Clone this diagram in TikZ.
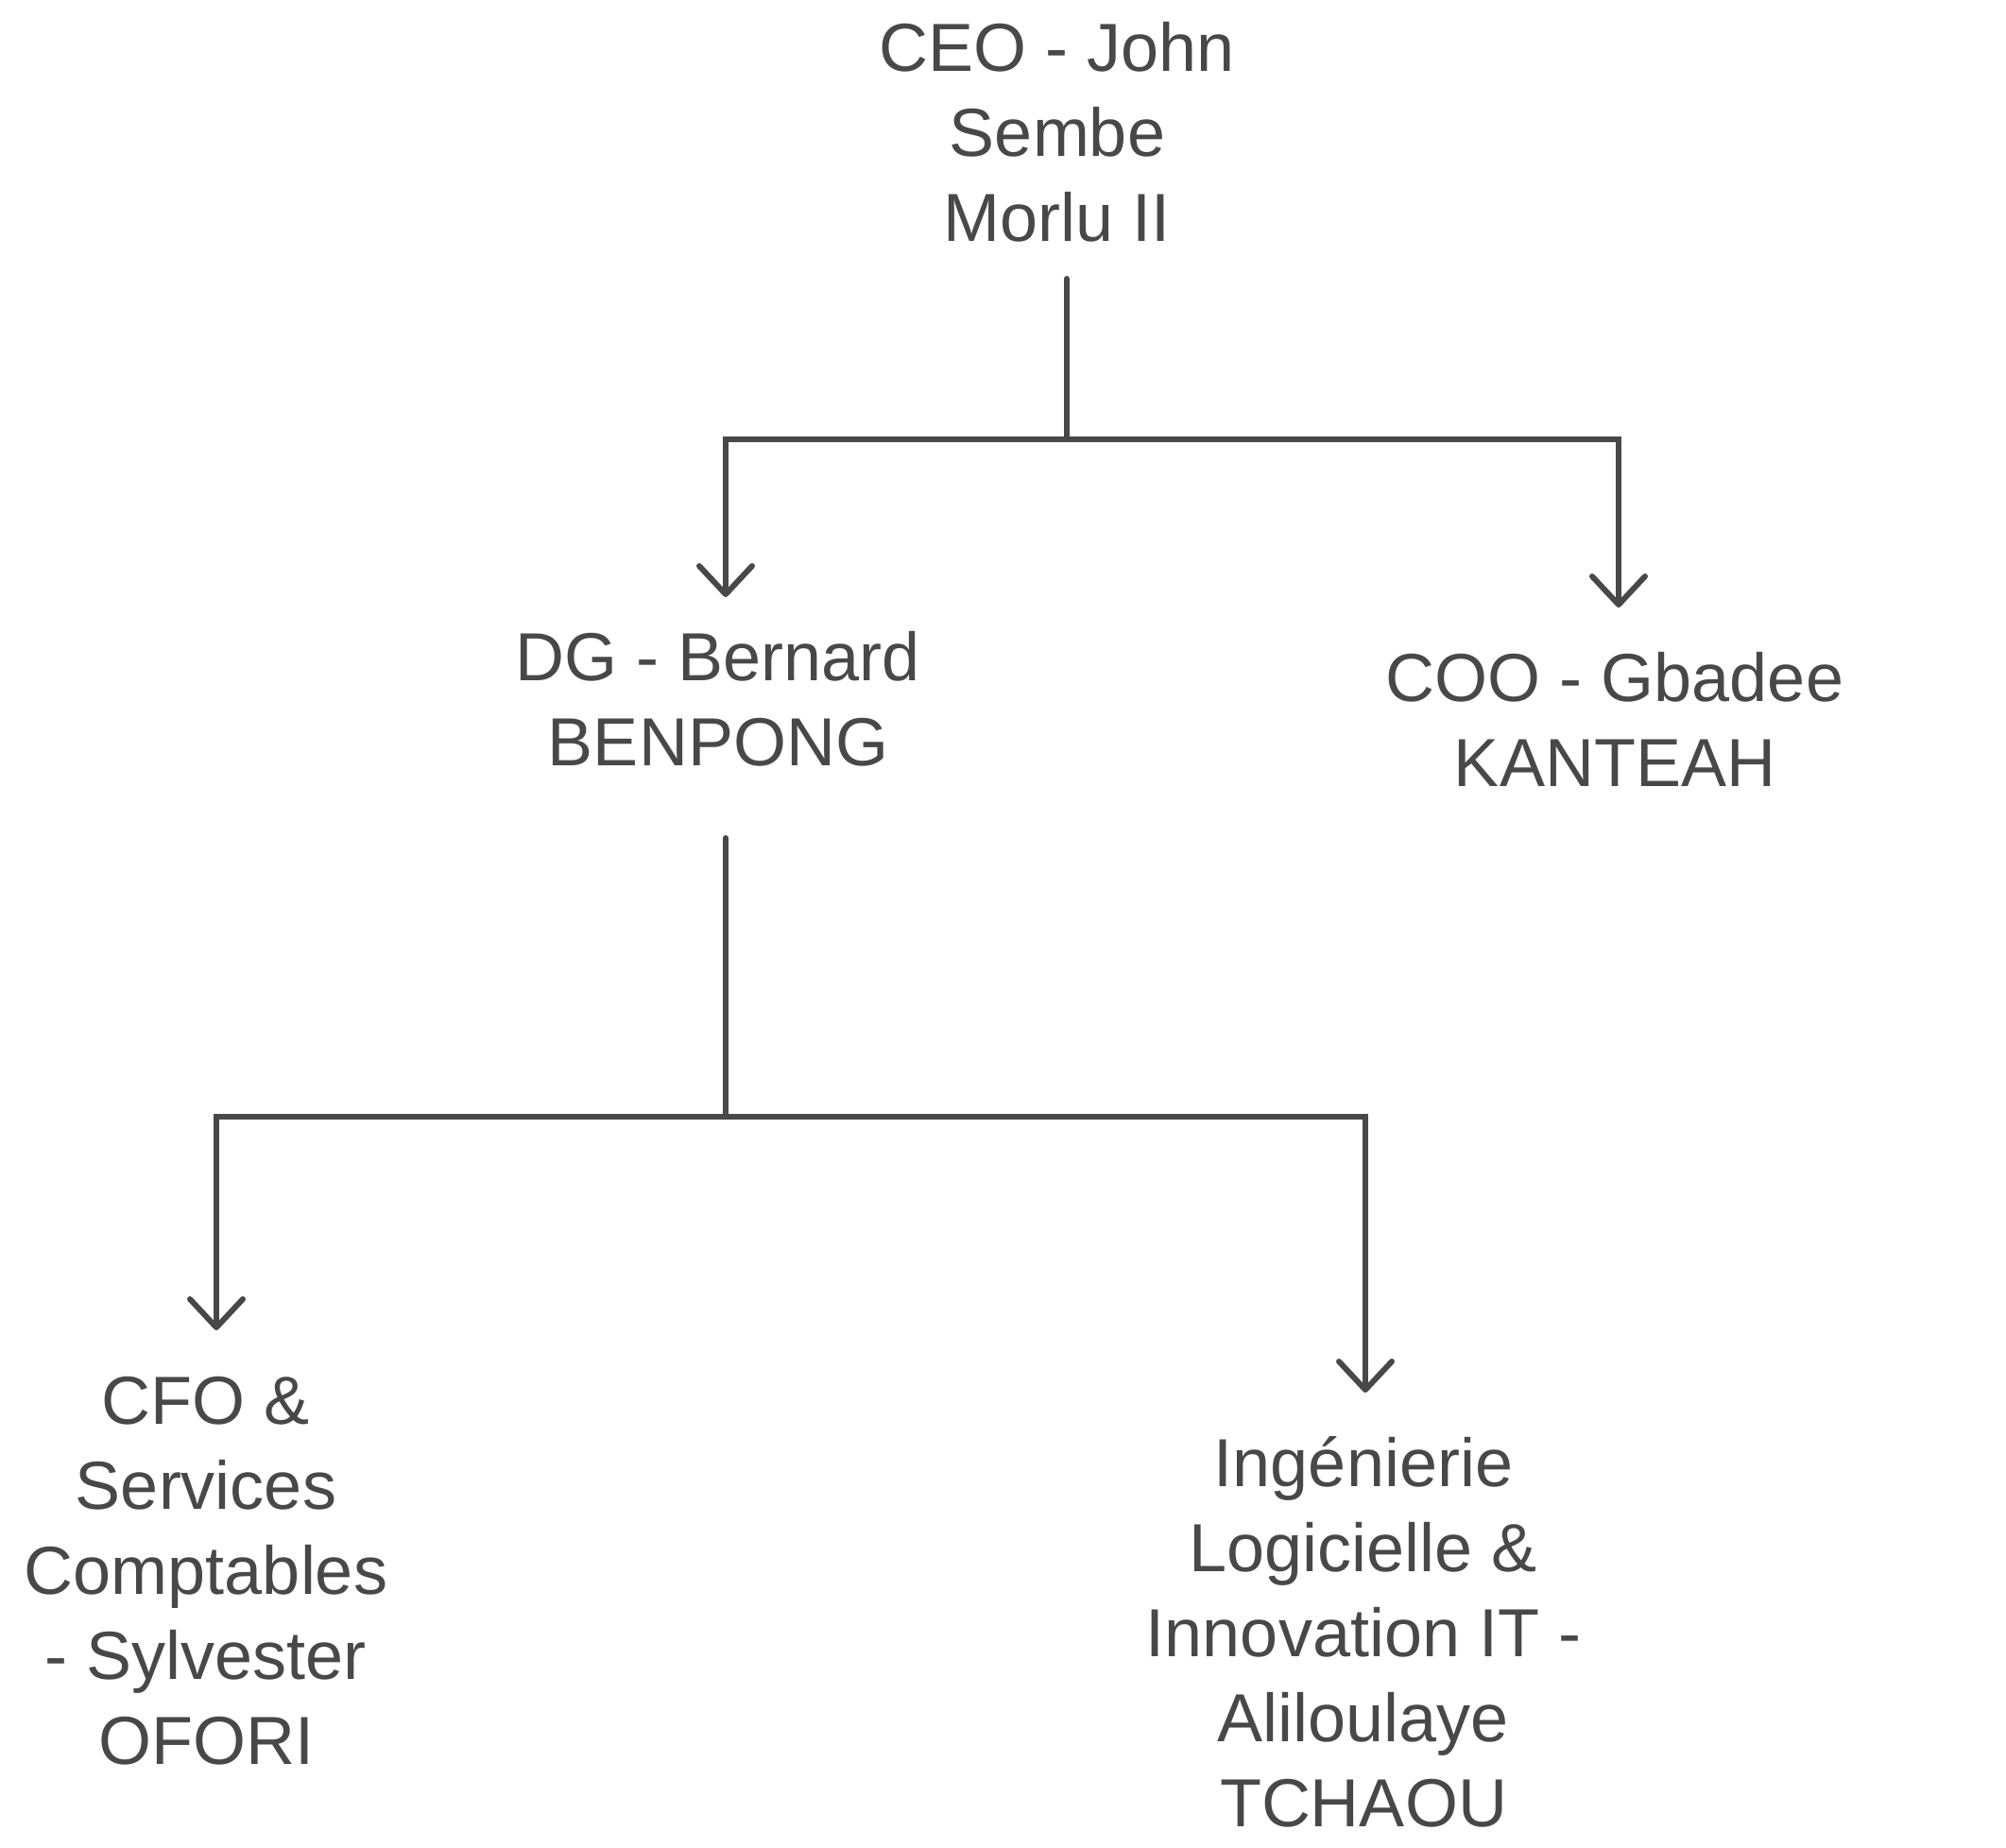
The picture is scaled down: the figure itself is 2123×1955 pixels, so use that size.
\documentclass[tikz,border=0pt]{standalone}
\usepackage{fontspec}
\setmainfont{Liberation Sans}
\usetikzlibrary{arrows.meta,calc}
\definecolor{ink}{HTML}{484848}
\newcommand{\stack}[1]{\vtop{\baselineskip=90pt\lineskiplimit=-100pt\halign{\hfil##\hfil\cr#1\crcr}}}
\begin{document}
\begin{tikzpicture}[x=1pt,y=-1pt,
  lbl/.style={inner sep=0pt,anchor=base,text=ink,font=\fontsize{72}{90}\selectfont},
  line/.style={draw=ink,line width=6pt,line cap=round,line join=miter},
  arr/.style={line,-{Straight Barb[length=30pt,width=56pt,round]}}]
\useasboundingbox (0,0) rectangle (2123,1955);
\node[lbl] (ceo) at (1119,75) {\stack{CEO - John\cr Sembe\cr Morlu II}};
\node[lbl] (dg) at (760,720) {\stack{DG - Bernard\cr BENPONG}};
\node[lbl] (coo) at (1709,742) {\stack{COO - Gbadee\cr KANTEAH}};
\node[lbl] (cfo) at (218,1507) {\stack{CFO \&\cr Services\cr Comptables\cr - Sylvester\cr OFORI}};
\node[lbl] (ing) at (1443,1573) {\stack{Ingénierie\cr Logicielle \&\cr Innovation IT -\cr Aliloulaye\cr TCHAOU}};
\coordinate (j1) at ($(ceo.base)+(10,390)$);
\coordinate (j2) at ($(dg.base)+(8,462)$);
\draw[line] ([xshift=10pt,yshift=-220pt]ceo.base) -- (j1);
\draw[arr] (j1) -| ([xshift=8pt,yshift=88pt]dg.base);
\draw[arr] (j1) -| ([xshift=4pt,yshift=99pt]coo.base);
\draw[line] ([xshift=8pt,yshift=-167pt]dg.base) -- (j2);
\draw[arr] (j2) -| ([xshift=11pt,yshift=99pt]cfo.base);
\draw[arr] (j2) -| ([xshift=2pt,yshift=99pt]ing.base);
\end{tikzpicture}
\end{document}
